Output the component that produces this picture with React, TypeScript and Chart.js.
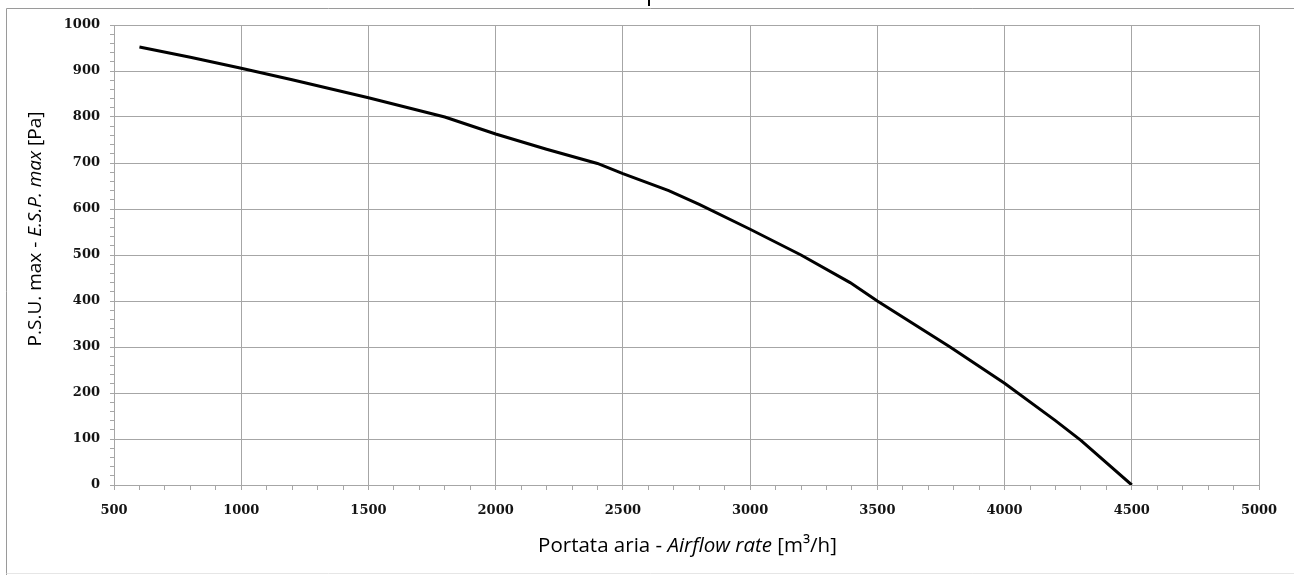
import React, { useEffect, useRef } from "react";
import { Chart, registerables } from "chart.js";

Chart.register(...registerables);

// Data
const airflow: number[] = [600, 800, 1000, 1200, 1500, 1800, 2000, 2200, 2400, 2500, 2680, 2800, 3000, 3200, 3393, 3500, 3786, 4000, 4200, 4300, 4500];
const pressure: number[] = [952, 930, 906, 881, 842, 800, 763, 730, 699, 677, 640, 610, 556, 500, 440, 400, 300, 221, 140, 97, 0];

const xTitleParts: { text: string; italic: boolean }[] = [
  { text: "Portata aria - ", italic: false },
  { text: "Airflow rate", italic: true },
  { text: " [m³/h]", italic: false },
];
const yTitleParts: { text: string; italic: boolean }[] = [
  { text: "P.S.U. max - ", italic: false },
  { text: "E.S.P. max", italic: true },
  { text: " [Pa]", italic: false },
];

const W = 1294;
const H = 575;
const GRID = "#a6a6a6";

function drawParts(ctx: CanvasRenderingContext2D, parts: { text: string; italic: boolean }[], size: number) {
  const f = (it: boolean) => `${it ? "italic " : ""}${size}px 'Open Sans'`;
  let total = 0;
  const widths = parts.map((p) => {
    ctx.font = f(p.italic);
    const w = ctx.measureText(p.text).width;
    total += w;
    return w;
  });
  let x = -total / 2;
  parts.forEach((p, i) => {
    ctx.font = f(p.italic);
    ctx.fillText(p.text, x, 0);
    x += widths[i];
  });
}

const framePlugin = {
  id: "framePlugin",
  beforeDraw(chart: any) {
    const ctx = chart.ctx as CanvasRenderingContext2D;
    ctx.save();
    ctx.fillStyle = "#ffffff";
    ctx.fillRect(0, 0, W, H);
    ctx.strokeStyle = "#9a9a9a";
    ctx.lineWidth = 1;
    ctx.beginPath();
    ctx.moveTo(6.5, H);
    ctx.lineTo(6.5, 8.5);
    ctx.lineTo(W, 8.5);
    ctx.stroke();
    ctx.strokeStyle = "#e6e6e6";
    ctx.beginPath();
    ctx.moveTo(6.5, 573.5);
    ctx.lineTo(W, 573.5);
    ctx.stroke();
    ctx.fillStyle = "#000000";
    ctx.fillRect(648, 0, 2, 6);
    ctx.restore();
  },
  afterDraw(chart: any) {
    const ctx = chart.ctx as CanvasRenderingContext2D;
    const area = chart.chartArea;
    ctx.save();
    ctx.fillStyle = "#000000";
    ctx.textBaseline = "middle";
    ctx.textAlign = "left";
    ctx.save();
    ctx.translate((area.left + area.right) / 2 + 1, 546);
    drawParts(ctx, xTitleParts, 20.5);
    ctx.restore();
    ctx.save();
    ctx.translate(36, 229);
    ctx.rotate(-Math.PI / 2);
    drawParts(ctx, yTitleParts, 19);
    ctx.restore();
    ctx.restore();
  },
};

export default function App() {
  const canvasRef = useRef<HTMLCanvasElement | null>(null);

  useEffect(() => {
    if (!canvasRef.current) return;
    const points = airflow.map((x, i) => ({ x, y: pressure[i] }));
    const chart = new Chart(canvasRef.current, {
      type: "scatter",
      data: {
        datasets: [
          {
            data: points,
            showLine: true,
            borderColor: "#000000",
            backgroundColor: "#000000",
            borderWidth: 3,
            pointRadius: 0,
            tension: 0,
          },
        ],
      },
      plugins: [framePlugin],
      options: {
        responsive: false,
        animation: false,
        layout: { padding: { left: 0, right: 35, top: 25, bottom: 0 } },
        plugins: { legend: { display: false }, tooltip: { enabled: false } },
        scales: {
          x: {
            type: "linear",
            min: 500,
            max: 5000,
            afterFit: (scale: any) => {
              scale.height = 90;
            },
            border: { color: GRID, width: 1 },
            grid: {
              color: (c: any) => (c.tick && c.tick.value % 500 === 0 ? GRID : "rgba(0,0,0,0)"),
              tickColor: GRID,
              tickLength: 5,
            },
            ticks: {
              stepSize: 100,
              autoSkip: false,
              maxRotation: 0,
              padding: 13,
              color: "#141414",
              font: { family: "'DejaVu Serif'", size: 13, weight: "bold" },
              callback: (v: any) => (Number(v) % 500 === 0 ? String(v) : ""),
            },
          },
          y: {
            type: "linear",
            min: 0,
            max: 1000,
            afterFit: (scale: any) => {
              scale.width = 114;
            },
            border: { color: GRID, width: 1 },
            grid: {
              color: (c: any) => (c.tick && c.tick.value % 100 === 0 ? GRID : "rgba(0,0,0,0)"),
              tickColor: GRID,
              tickLength: 4,
            },
            ticks: {
              stepSize: 20,
              autoSkip: false,
              padding: 10,
              color: "#141414",
              font: { family: "'DejaVu Serif'", size: 13, weight: "bold" },
              callback: (v: any) => (Number(v) % 100 === 0 ? String(v) : ""),
            },
          },
        },
      },
    });
    return () => chart.destroy();
  }, []);

  return (
    <div style={{ position: "absolute", left: 0, top: 0, width: W, height: H }}>
      <canvas ref={canvasRef} width={W} height={H} style={{ display: "block" }} />
    </div>
  );
}
